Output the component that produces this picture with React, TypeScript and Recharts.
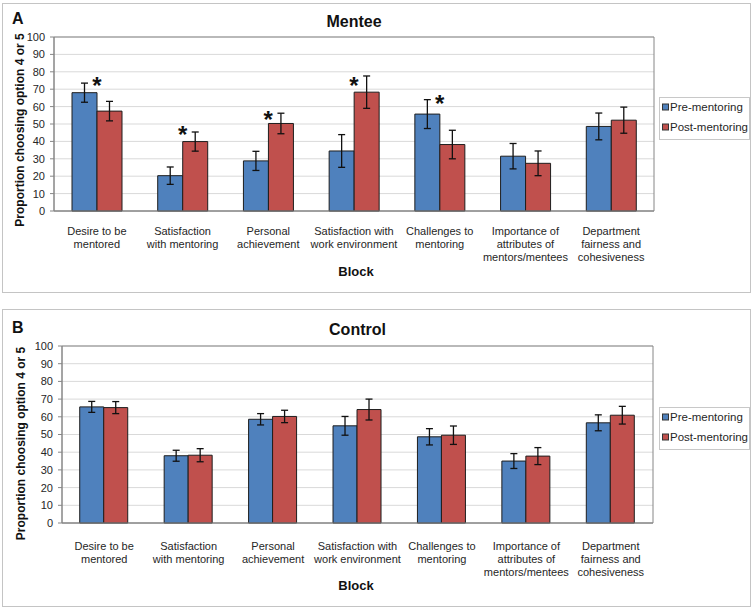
import React from "react"
import { BarChart, Bar, XAxis, YAxis, CartesianGrid, ErrorBar, ReferenceDot, ReferenceArea } from "recharts"

const FONT = '"Liberation Sans", Arial, sans-serif'
const PRE_COLOR = "#4F81BD"
const POST_COLOR = "#C0504D"

const categories = [
  "Desire to be\nmentored",
  "Satisfaction\nwith mentoring",
  "Personal\nachievement",
  "Satisfaction with\nwork environment",
  "Challenges to\nmentoring",
  "Importance of\nattributes of\nmentors/mentees",
  "Department\nfairness and\ncohesiveness",
]

const yTicks = [0, 10, 20, 30, 40, 50, 60, 70, 80, 90, 100]

// Mentee panel
const menteePre = [68, 20.3, 28.8, 34.5, 55.7, 31.5, 48.6]
const menteePreErr = [5.5, 5, 5.5, 9.4, 8.3, 7.3, 7.7]
const menteePost = [57.4, 39.9, 50.3, 68.3, 38.2, 27.4, 52.2]
const menteePostErr = [5.6, 5.5, 5.9, 9.3, 8.2, 7.1, 7.5]
const menteeStars = [74.7, 46.3, 55.2, 74.8, 64.3, null, null]

// Control panel
const controlPre = [65.6, 38.0, 58.6, 54.9, 48.7, 35.0, 56.6]
const controlPreErr = [3.1, 3.1, 3.2, 5.3, 4.6, 4.2, 4.5]
const controlPost = [65.2, 38.3, 60.2, 64.1, 49.6, 37.8, 60.9]
const controlPostErr = [3.4, 3.7, 3.5, 5.9, 5.2, 4.8, 5.0]
const controlStars: (number | null)[] = [null, null, null, null, null, null, null]

function buildRows(pre: number[], preErr: number[], post: number[], postErr: number[]) {
  return categories.map((name, i) => ({
    name,
    pre: pre[i],
    preErr: preErr[i],
    post: post[i],
    postErr: postErr[i],
  }))
}

function CategoryTick(props: any) {
  const { x, y, payload, firstLine } = props
  const lines = String(payload.value).split("\n")
  return (
    <text x={x} y={y + firstLine} textAnchor="middle" fontSize={11} fill="#262626" fontFamily={FONT}>
      {lines.map((line, i) => (
        <tspan key={i} x={x} dy={i === 0 ? 0 : 13}>
          {line}
        </tspan>
      ))}
    </text>
  )
}

function Star(props: any) {
  const { cx, cy } = props
  return (
    <text x={cx} y={cy + 13} textAnchor="middle" fontSize={24} fontWeight="bold" fill="#111" fontFamily={FONT}>
      *
    </text>
  )
}

interface PanelProps {
  top: number
  height: number
  letter: string
  title: string
  rows: ReturnType<typeof buildRows>
  stars: (number | null)[]
  margin: { top: number; right: number; left: number; bottom: number }
  labelOffset: number
  titleX: number
  titleY: number
  letterY: number
  yLabelX: number
  yLabelY: number
  blockY: number
  legendTop: number
}

function Panel(p: PanelProps) {
  return (
    <div style={{ position: "absolute", left: 0, top: p.top, width: 754, height: p.height }}>
      <div
        style={{
          position: "absolute",
          left: 2,
          top: 0,
          width: 749,
          height: p.height,
          boxSizing: "border-box",
          border: "1px solid #c4c4c4",
          background: "#fff",
        }}
      />
      <div style={{ position: "absolute", left: 0, top: 0 }}>
        <BarChart width={754} height={p.height} data={p.rows} margin={p.margin} barCategoryGap="21%" barGap={0}>
          <CartesianGrid vertical={false} stroke="#d9d9d9" />
          <XAxis
            dataKey="name"
            height={60}
            interval={0}
            tickLine={false}
            tickSize={0}
            tickMargin={0}
            axisLine={{ stroke: "#868686" }}
            tick={(t: any) => <CategoryTick {...t} firstLine={p.labelOffset} />}
          />
          <YAxis
            width={30}
            domain={[0, 100]}
            ticks={yTicks}
            interval={0}
            tickSize={4}
            tickMargin={5}
            axisLine={{ stroke: "#868686" }}
            tickLine={{ stroke: "#868686" }}
            tick={{ fontSize: 11, fill: "#262626", fontFamily: FONT }}
          />
          <ReferenceArea
            x1={categories[0]}
            x2={categories[categories.length - 1]}
            y1={0}
            y2={100}
            fill="none"
            stroke="#868686"
            strokeWidth={1}
          />
          <Bar dataKey="pre" fill={PRE_COLOR} stroke="#1e1e1e" strokeWidth={1} isAnimationActive={false}>
            <ErrorBar dataKey="preErr" width={3.5} stroke="#111" strokeWidth={1.3} isAnimationActive={false} />
          </Bar>
          <Bar dataKey="post" fill={POST_COLOR} stroke="#1e1e1e" strokeWidth={1} isAnimationActive={false}>
            <ErrorBar dataKey="postErr" width={3.5} stroke="#111" strokeWidth={1.3} isAnimationActive={false} />
          </Bar>
          {p.stars.map((s, i) =>
            s == null ? null : (
              <ReferenceDot key={i} x={categories[i]} y={s} r={0} shape={(sp: any) => <Star {...sp} />} />
            )
          )}
        </BarChart>
      </div>
      <svg
        width={754}
        height={p.height}
        style={{ position: "absolute", left: 0, top: 0, pointerEvents: "none" }}
        fontFamily={FONT}
      >
        <text x={12} y={p.letterY} fontSize={16} fontWeight="bold" fill="#111">
          {p.letter}
        </text>
        <text x={p.titleX} y={p.titleY} fontSize={16} fontWeight="bold" fill="#111" textAnchor="middle">
          {p.title}
        </text>
        <text
          transform={`translate(${p.yLabelX},${p.yLabelY}) rotate(-90)`}
          fontSize={12}
          fontWeight="bold"
          fill="#111"
          textAnchor="middle"
        >
          Proportion choosing option 4 or 5
        </text>
        <text x={356} y={p.blockY} fontSize={13} fontWeight="bold" fill="#111" textAnchor="middle">
          Block
        </text>
        <g transform={`translate(0,${p.legendTop})`}>
          <rect x={659.5} y={0.5} width={90} height={42} fill="#fff" stroke="#c8c8c8" />
          <rect x={662.5} y={7} width={6} height={6} fill={PRE_COLOR} stroke="#333" />
          <text x={670} y={14} fontSize={11.5} fill="#262626">
            Pre-mentoring
          </text>
          <rect x={662.5} y={27} width={6} height={6} fill={POST_COLOR} stroke="#333" />
          <text x={670} y={34} fontSize={11.5} fill="#262626">
            Post-mentoring
          </text>
        </g>
      </svg>
    </div>
  )
}

export default function App() {
  const menteeRows = buildRows(menteePre, menteePreErr, menteePost, menteePostErr)
  const controlRows = buildRows(controlPre, controlPreErr, controlPost, controlPostErr)
  return (
    <div style={{ position: "absolute", left: 0, top: 0, width: 754, height: 610, background: "#fff", fontFamily: FONT }}>
      <Panel
        top={3}
        height={290}
        letter="A"
        title="Mentee"
        rows={menteeRows}
        stars={menteeStars}
        margin={{ top: 34, right: 100, left: 24, bottom: 22 }}
        labelOffset={24}
        titleX={354}
        titleY={24}
        letterY={21}
        yLabelX={23.5}
        yLabelY={127}
        blockY={273}
        legendTop={94}
      />
      <Panel
        top={309}
        height={298}
        letter="B"
        title="Control"
        rows={controlRows}
        stars={controlStars}
        margin={{ top: 37, right: 101, left: 32, bottom: 24 }}
        labelOffset={27}
        titleX={357.5}
        titleY={26}
        letterY={24}
        yLabelX={24.5}
        yLabelY={134.5}
        blockY={281}
        legendTop={98}
      />
    </div>
  )
}
